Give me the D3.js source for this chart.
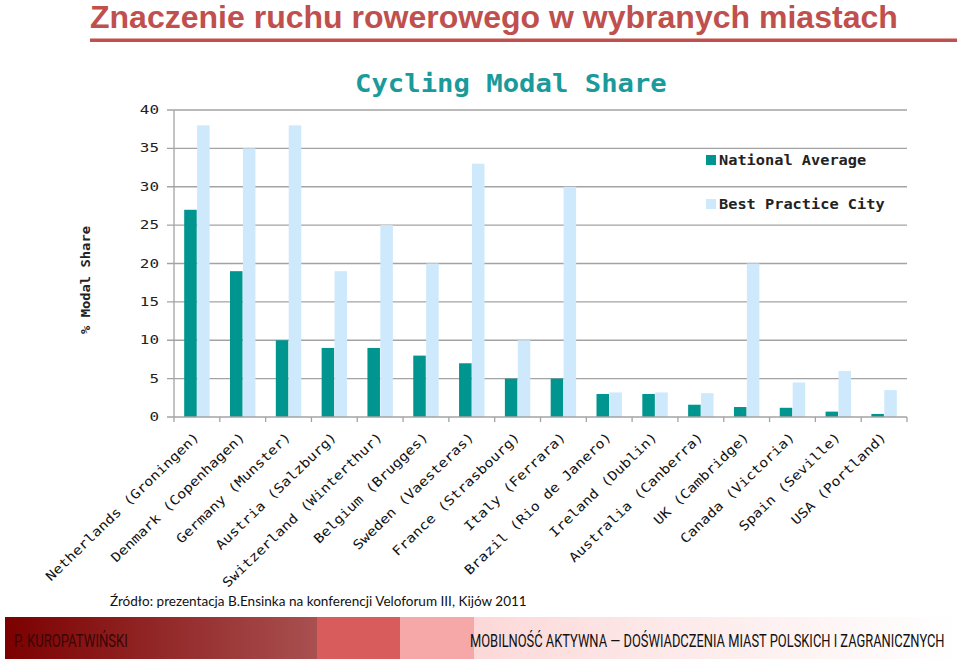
<!DOCTYPE html>
<html><head><meta charset="utf-8">
<script src="https://cdn.jsdelivr.net/npm/d3@7"></script>
<style>body{margin:0;background:#fff}svg{display:block}</style>
</head><body>
<svg id="c" width="960" height="661"></svg>
<script>
const categories = ["Netherlands (Groningen)","Denmark (Copenhagen)","Germany (Munster)","Austria (Salzburg)","Switzerland (Winterthur)","Belgium (Brugges)","Sweden (Vaesteras)","France (Strasbourg)","Italy (Ferrara)","Brazil (Rio de Janero)","Ireland (Dublin)","Australia (Canberra)","UK (Cambridge)","Canada (Victoria)","Spain (Seville)","USA (Portland)"];
const seriesNames = ["National Average","Best Practice City"];
const nationalAverage = [27,19,10,9,9,8,7,5,5,3,3,1.6,1.3,1.2,0.7,0.4];
const bestPracticeCity = [38,35,38,19,25,20,33,10,30,3.2,3.2,3.1,20,4.5,6,3.5];
const yTicks = [0,5,10,15,20,25,30,35,40];
const title = "Znaczenie ruchu rowerowego w wybranych miastach";
const chartTitle = "Cycling Modal Share";
const yLabel = "% Modal Share";
const source = "Źródło: prezentacja B.Ensinka na konferencji Veloforum III, Kijów 2011";
const footerLeft = "P. KUROPATWIŃSKI";
const footerRight = "MOBILNOŚĆ AKTYWNA — DOŚWIADCZENIA MIAST POLSKICH I ZAGRANICZNYCH";

const svg = d3.select("#c");
const mono = "'DejaVu Sans Mono','Liberation Mono',monospace";
const colors = ["#00968f","#cde9fb"];

// place a text at (x,y) and scale it horizontally to a target width
function fitText(sel, x, y, width) {
  const w = sel.node().getComputedTextLength();
  sel.attr("x",0).attr("y",0).attr("transform",`translate(${x},${y}) scale(${width/w},1)`);
  return sel;
}

// Slide title
fitText(svg.append("text").attr("fill","#c0504d")
  .attr("font-family","'Liberation Sans',Arial,sans-serif").attr("font-weight","bold").attr("font-size",30.5)
  .text(title), 90, 28, 808);
svg.append("rect").attr("x",90).attr("y",38.5).attr("width",867).attr("height",3.5).attr("fill","#c0504d");

// Chart
const x0 = d3.scaleBand().domain(categories).range([174,907]);
const groupW = x0.bandwidth()*0.555;
const x1 = d3.scaleBand().domain(seriesNames).range([0,groupW]).paddingInner(0.03);
const y = d3.scaleLinear().domain([0,40]).range([417,110]);

fitText(svg.append("text").attr("fill","#1a9a9a")
  .attr("font-family",mono).attr("font-weight","bold").attr("font-size",24)
  .text(chartTitle), 355, 92, 312);

// gridlines
svg.append("g").selectAll("line").data(yTicks.filter(d=>d>0)).join("line")
  .attr("x1",167).attr("x2",907).attr("y1",d=>y(d)).attr("y2",d=>y(d))
  .attr("stroke","#a3a3a3").attr("stroke-width",1.3);

// y tick labels
svg.append("g").selectAll("text").data(yTicks).join("text")
  .attr("x",159).attr("y",d=>y(d)+4).attr("text-anchor","end")
  .attr("font-family",mono).attr("font-size",11.5).attr("fill","#222")
  .attr("textLength",d=>String(d).length*9.6).attr("lengthAdjust","spacingAndGlyphs")
  .text(d=>d);

// y axis label
svg.append("text").attr("transform","translate(90,280) rotate(-90)").attr("text-anchor","middle")
  .attr("font-family",mono).attr("font-weight","bold").attr("font-size",12.5).attr("fill","#222")
  .attr("textLength",108).attr("lengthAdjust","spacingAndGlyphs").text(yLabel);

// bars
const rows = categories.map((c,i)=>({c, vals:[nationalAverage[i],bestPracticeCity[i]]}));
const off = (x0.bandwidth()-groupW)/2;
svg.append("g").selectAll("g").data(rows).join("g")
  .attr("transform",d=>`translate(${x0(d.c)+off},0)`)
  .selectAll("rect").data(d=>d.vals.map((v,k)=>({k,v}))).join("rect")
  .attr("x",d=>x1(seriesNames[d.k])).attr("width",x1.bandwidth())
  .attr("y",d=>y(d.v)).attr("height",d=>y(0)-y(d.v)).attr("fill",d=>colors[d.k]);

// axes lines
svg.append("line").attr("x1",174).attr("x2",174).attr("y1",110).attr("y2",422).attr("stroke","#a3a3a3").attr("stroke-width",1.3);
svg.append("line").attr("x1",167).attr("x2",907).attr("y1",y(0)).attr("y2",y(0)).attr("stroke","#a3a3a3").attr("stroke-width",1.3);
svg.append("g").selectAll("line").data(categories).join("line")
  .attr("x1",d=>x0(d)+x0.bandwidth()).attr("x2",d=>x0(d)+x0.bandwidth())
  .attr("y1",y(0)).attr("y2",y(0)+5).attr("stroke","#a3a3a3").attr("stroke-width",1.3);

// x labels
svg.append("g").selectAll("text").data(categories).join("text")
  .attr("transform",d=>`translate(${x0(d)+x0.bandwidth()/2+3},438) rotate(-44)`)
  .attr("text-anchor","end").attr("font-family",mono).attr("font-size",13).attr("fill","#111")
  .attr("textLength",d=>d.length*9.0).attr("lengthAdjust","spacingAndGlyphs").text(d=>d);

// legend
const leg = svg.append("g").selectAll("g").data(seriesNames).join("g")
  .attr("transform",(d,i)=>`translate(706,${155+i*44})`);
leg.append("rect").attr("width",10).attr("height",10).attr("fill",(d,i)=>colors[i]);
leg.append("text").attr("x",13).attr("y",10).attr("font-family",mono).attr("font-weight","bold")
  .attr("font-size",13.5).attr("fill","#222")
  .attr("textLength",d=>d.length*9.2).attr("lengthAdjust","spacingAndGlyphs").text(d=>d);

// source
fitText(svg.append("text").attr("font-family","Lato,'Open Sans',sans-serif")
  .attr("font-size",14).attr("fill","#111").text(source), 110, 606, 417);

// footer banner
const defs = svg.append("defs");
const g1 = defs.append("linearGradient").attr("id","fg1");
g1.append("stop").attr("offset","0").attr("stop-color","#7c0000");
g1.append("stop").attr("offset","1").attr("stop-color","#a95050");
const g2 = defs.append("linearGradient").attr("id","fg2");
g2.append("stop").attr("offset","0").attr("stop-color","#fcd8d8");
g2.append("stop").attr("offset","0.4").attr("stop-color","#fde9e9");
g2.append("stop").attr("offset","1").attr("stop-color","#ffffff");
svg.append("rect").attr("x",5).attr("y",617).attr("width",312).attr("height",42).attr("fill","url(#fg1)");
svg.append("rect").attr("x",317).attr("y",617).attr("width",83).attr("height",42).attr("fill","#d95c5c");
svg.append("rect").attr("x",400).attr("y",617).attr("width",74).attr("height",42).attr("fill","#f6a8a8");
svg.append("rect").attr("x",474).attr("y",617).attr("width",484).attr("height",42).attr("fill","url(#fg2)");
fitText(svg.append("text").attr("font-family","Roboto,sans-serif").attr("font-size",19)
  .attr("fill","#3a0606").text(footerLeft), 14, 647, 114);
fitText(svg.append("text").attr("font-family","Roboto,sans-serif").attr("font-size",19)
  .attr("fill","#111").text(footerRight), 470, 647, 475);
</script>
</body></html>
